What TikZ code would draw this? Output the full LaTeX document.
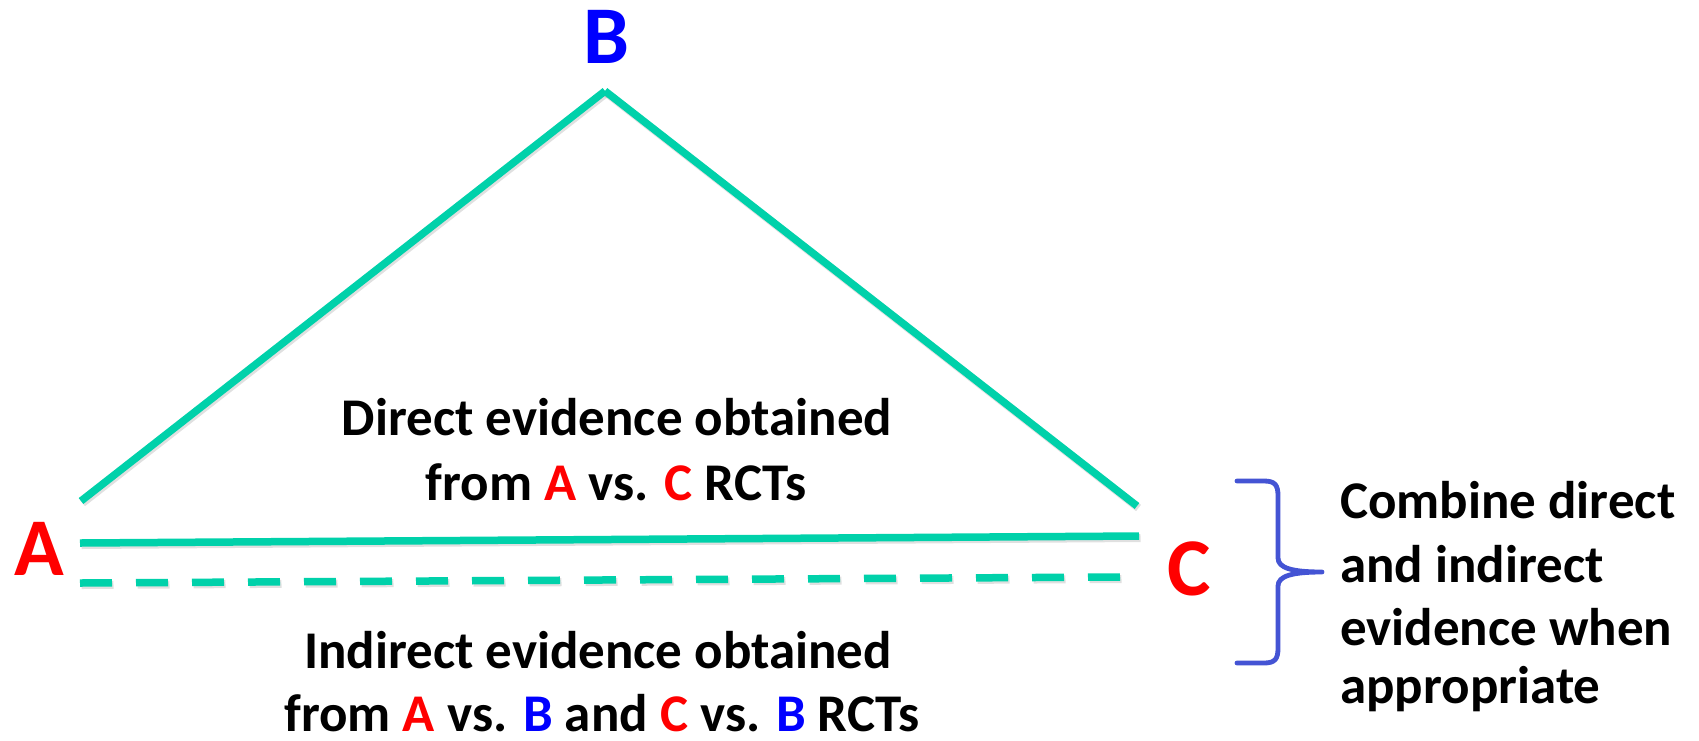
\documentclass[tikz,border=0pt]{standalone}
\usepackage{fontspec}
\setmainfont{Carlito}
\definecolor{lineteal}{RGB}{0,209,170}
\definecolor{braceblue}{RGB}{68,84,212}
\definecolor{letred}{RGB}{255,0,0}
\definecolor{letblue}{RGB}{0,0,255}
\begin{document}
\begin{tikzpicture}[x=1pt,y=-1pt,
  edge/.style={draw=lineteal,line width=7.5pt,line cap=butt},
  edgeshadow/.style={draw=black,opacity=0.12,line width=8pt,line cap=butt,transform canvas={shift={(1.5pt,-2pt)}}},
  dashedge/.style={edge,dash pattern=on 32pt off 24pt},
  big/.style={font=\fontsize{82}{90}\selectfont\bfseries,inner sep=0pt,anchor=base},
  txt/.style={font=\fontsize{53}{62}\selectfont\bfseries,inner sep=0pt,anchor=base},
  bracestyle/.style={draw=braceblue,line width=4.8pt,line cap=round,line join=round}]
\useasboundingbox (0,0) rectangle (1699,740);
\fill[white] (0,0) rectangle (1699,740);
% letters
\node[big,text=letred] (A) at (39,575) {A};
\node[big,text=letblue] (B) at (606,63) {B};
\node[big,text=letred] (C) at (1189,595) {C};
% line end points
\coordinate (apex) at (605,91);
\coordinate (ab) at (81,501);
\coordinate (cb) at (1137,506);
\coordinate (ds) at (80,543);
\coordinate (de) at (1139,536);
\coordinate (is) at (80,583);
\coordinate (ie) at (1120,577);
% shadows
\draw[edgeshadow] (ab) -- (apex);
\draw[edgeshadow] (apex) -- (cb);
\draw[edgeshadow] (ds) -- (de);
\draw[edgeshadow,dash pattern=on 32pt off 24pt] (is) -- (ie);
% lines
\draw[edge] (ab) -- (apex);
\draw[edge] (apex) -- (cb);
\draw[edge] (ds) -- (de);
\draw[dashedge] (is) -- (ie);
% texts
\node[txt] (d1) at (617,435) {Direct evidence obtained};
\node[txt] (d2) at (616,500) {from {\color{letred}A} vs. {\color{letred}C} RCTs};
\node[txt] (i1) at (598,668) {Indirect evidence obtained};
\node[txt] (i2) at (602,731) {from {\color{letred}A} vs. {\color{letblue}B} and {\color{letred}C} vs. {\color{letblue}B} RCTs};
\node[txt,anchor=base west] (c1) at (1340,518) {Combine direct};
\node[txt,anchor=base west] (c2) at (1340,582) {and indirect};
\node[txt,anchor=base west] (c3) at (1340,645) {evidence when};
\node[txt,anchor=base west] (c4) at (1340,703) {appropriate};
% brace
\coordinate (bt) at (1237,481);
\coordinate (bm) at (1322,572);
\coordinate (bb) at (1237,663);
\draw[bracestyle] (bt) -- (1264,481) .. controls (1275,481) and (1278,485) .. (1278,496)
  -- (1278,558) .. controls (1278,568) and (1292,572) .. (bm)
  .. controls (1292,572) and (1278,576) .. (1278,586)
  -- (1278,648) .. controls (1278,659) and (1275,663) .. (1264,663) -- (bb);
\end{tikzpicture}
\end{document}
